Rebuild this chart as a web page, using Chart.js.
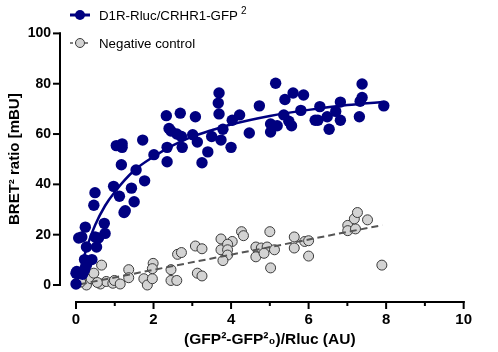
<!DOCTYPE html>
<html><head><meta charset="utf-8">
<script src="https://cdn.jsdelivr.net/npm/chart.js@4"></script>
<style>html,body{margin:0;padding:0;background:#fff}#wrap{width:498px;height:352px}</style>
</head><body><div id="wrap"><canvas id="c" width="498" height="352"></canvas></div>
<script>
// ---- data ----
const xTicks = [0, 2, 4, 6, 8, 10];
const xMinorTicks = [1, 3, 5, 7, 9];
const yTicks = [0, 20, 40, 60, 80, 100];

const seriesNames = ["D1R-Rluc/CRHR1-GFP", "Negative control"];

const blueX = [0.00,0.02,0.07,0.00,0.17,0.22,0.27,0.22,0.41,0.27,0.53,0.15,0.49,0.58,0.75,0.24,0.73,0.46,0.49,1.24,1.27,1.50,1.12,1.43,0.97,1.77,1.55,1.17,2.35,2.01,1.04,1.19,1.19,1.72,2.35,3.25,3.40,2.74,4.00,3.13,3.74,2.72,3.50,2.60,3.01,2.45,2.40,3.79,4.47,2.33,2.69,3.08,3.69,4.22,4.03,3.67,3.69,4.73,5.15,5.60,5.87,5.39,5.80,5.36,5.02,5.19,5.49,5.56,5.02,6.17,6.24,6.29,6.48,6.53,6.70,6.82,6.82,7.31,7.33,7.38,7.38,7.94];
const blueY = [0.4,5.4,18.7,4.7,4.3,6.0,7.9,10.1,10.1,15.1,15.1,19.1,19.1,18.7,20.5,23.0,24.5,31.7,36.7,28.8,29.5,33.1,35.3,38.5,39.2,41.4,45.7,47.8,49.0,51.8,55.4,56.1,54.7,57.6,54.7,48.6,52.9,54.7,54.7,56.8,57.6,59.0,59.0,60.0,59.7,61.2,62.2,61.9,60.4,67.3,68.3,66.9,68.0,67.6,65.5,72.3,76.3,71.2,80.2,76.3,75.5,73.7,69.4,67.6,64.0,63.3,65.1,63.3,60.8,65.5,65.5,70.9,66.9,61.9,69.0,72.7,65.5,66.9,73.0,74.5,79.9,71.2];

const grayX = [0.02,0.17,0.27,0.39,0.46,0.66,0.63,0.78,0.95,0.99,1.14,1.36,1.36,1.75,1.84,1.97,1.99,1.97,2.45,2.45,2.60,2.62,2.72,3.08,3.25,3.13,3.25,3.74,4.03,3.74,3.91,3.91,3.91,3.79,4.27,4.32,5.00,4.64,4.78,4.93,5.12,4.64,4.85,5.02,5.63,5.63,5.90,6.00,6.00,7.01,7.01,7.21,7.18,7.26,7.52,7.89,0.12,0.55];
const grayY = [0.7,2.9,0.0,2.5,4.7,7.9,0.4,1.4,0.7,1.8,0.4,6.1,2.9,2.5,0.0,2.5,8.6,6.5,6.1,1.8,1.8,12.2,12.9,15.5,14.4,4.7,3.6,18.3,17.3,14.0,16.2,14.0,11.9,9.7,21.2,19.6,21.2,15.1,14.7,15.1,14.0,11.2,12.6,6.8,19.1,14.7,17.3,17.6,11.5,23.7,21.6,22.3,26.3,28.8,25.9,7.9,1.2,1.0];

// fitted curves
const blueFitX = [0, 0.25, 0.5, 0.75, 1, 1.5, 2, 2.5, 3, 3.5, 4, 5, 6, 7, 7.9];
const blueFitY = [0, 13.5, 24, 31.5, 37, 45.5, 51, 55.5, 59, 61.5, 63.8, 67.2, 69.6, 71.5, 72.7];
const grayFitX = [0.1, 7.9];
const grayFitY = [0.3, 23.8];

const BLUE = '#000080';
const GRAYFILL = '#d3d3d3';
const GRAYEDGE = '#3a3a3a';
const FONT = '"Liberation Sans", Arial, Helvetica, sans-serif';

const toPts = (xs, ys) => xs.map((x, i) => ({x, y: ys[i]}));

const axesAndLegend = {
  id: 'axesAndLegend',
  afterDraw(chart) {
    const ctx = chart.ctx;
    const xs = chart.scales.x, ys = chart.scales.y;
    ctx.save();
    ctx.strokeStyle = '#000';
    ctx.lineWidth = 2;
    ctx.lineCap = 'butt';
    // y axis (offset left)
    const ax = 60;
    ctx.beginPath();
    ctx.moveTo(ax, ys.getPixelForValue(100) - 1);
    ctx.lineTo(ax, ys.getPixelForValue(0) + 1);
    ctx.stroke();
    yTicks.forEach(v => {
      const p = ys.getPixelForValue(v);
      ctx.beginPath(); ctx.moveTo(ax - 7, p); ctx.lineTo(ax + 1, p); ctx.stroke();
    });
    // x axis (offset below)
    const ay = 302;
    ctx.beginPath();
    ctx.moveTo(xs.getPixelForValue(0) - 1, ay);
    ctx.lineTo(xs.getPixelForValue(10) + 1, ay);
    ctx.stroke();
    xTicks.forEach(v => {
      const p = xs.getPixelForValue(v);
      ctx.beginPath(); ctx.moveTo(p, ay - 1); ctx.lineTo(p, ay + 7); ctx.stroke();
    });
    xMinorTicks.forEach(v => {
      const p = xs.getPixelForValue(v);
      ctx.beginPath(); ctx.moveTo(p, ay - 1); ctx.lineTo(p, ay + 4); ctx.stroke();
    });

    // legend
    ctx.strokeStyle = BLUE; ctx.lineWidth = 3;
    ctx.beginPath(); ctx.moveTo(70, 15); ctx.lineTo(90, 15); ctx.stroke();
    ctx.fillStyle = BLUE;
    ctx.beginPath(); ctx.arc(80, 15, 5, 0, Math.PI * 2); ctx.fill();
    ctx.fillStyle = '#000';
    ctx.font = '13.3px ' + FONT;
    ctx.textBaseline = 'middle';
    ctx.textAlign = 'left';
    ctx.fillText(seriesNames[0], 99, 16);
    const w = ctx.measureText(seriesNames[0]).width;
    ctx.font = '10px ' + FONT;
    ctx.fillText('2', 99 + w + 3, 11);

    ctx.strokeStyle = '#555'; ctx.lineWidth = 1.5; ctx.setLineDash([3, 2]);
    ctx.beginPath(); ctx.moveTo(70, 43); ctx.lineTo(90, 43); ctx.stroke();
    ctx.setLineDash([]);
    ctx.fillStyle = GRAYFILL; ctx.strokeStyle = GRAYEDGE; ctx.lineWidth = 1;
    ctx.beginPath(); ctx.arc(80, 43, 4.5, 0, Math.PI * 2); ctx.fill(); ctx.stroke();
    ctx.fillStyle = '#000';
    ctx.font = '13.3px ' + FONT;
    ctx.fillText(seriesNames[1], 99, 44);
    ctx.restore();
  }
};

new Chart(document.getElementById('c'), {
  type: 'scatter',
  data: {
    datasets: [
      { label: 'fit1', data: toPts(blueFitX, blueFitY), showLine: true, borderColor: BLUE, borderWidth: 2.5,
        pointRadius: 0, cubicInterpolationMode: 'monotone', order: 0, clip: false },
      { label: seriesNames[0], data: toPts(blueX, blueY), backgroundColor: BLUE, borderColor: BLUE, borderWidth: 0,
        pointRadius: 5.7, order: 1, clip: false },
      { label: 'fit2', data: toPts(grayFitX, grayFitY), showLine: true, borderColor: '#555', borderWidth: 2,
        borderDash: [7, 4], pointRadius: 0, order: 2, clip: false },
      { label: seriesNames[1], data: toPts(grayX, grayY), backgroundColor: GRAYFILL, borderColor: GRAYEDGE, borderWidth: 1,
        pointRadius: 5, order: 3, clip: false }
    ]
  },
  options: {
    responsive: false,
    animation: false,
    devicePixelRatio: 1,
    layout: { padding: { left: 0, right: 10, top: 7, bottom: 0 } },
    plugins: { legend: { display: false }, tooltip: { enabled: false } },
    scales: {
      x: {
        type: 'linear', min: 0, max: 10,
        afterBuildTicks: s => { s.ticks = xTicks.map(v => ({value: v})); },
        ticks: { color: '#000', font: { family: FONT, size: 15, weight: 'bold' }, padding: 26, maxRotation: 0 },
        grid: { display: false, drawTicks: false },
        border: { display: false },
        title: { display: true, text: '(GFP²-GFP²₀)/Rluc (AU)', color: '#000',
                 font: { family: FONT, size: 15.5, weight: 'bold' }, padding: { top: 0, bottom: 3 } },
        afterFit: s => { s.height = 67; }
      },
      y: {
        type: 'linear', min: 0, max: 100,
        afterBuildTicks: s => { s.ticks = yTicks.map(v => ({value: v})); },
        ticks: { color: '#000', font: { family: FONT, size: 14, weight: 'bold' }, padding: 25 },
        grid: { display: false, drawTicks: false },
        border: { display: false },
        title: { display: true, text: 'BRET² ratio [mBU]', color: '#000',
                 font: { family: FONT, size: 15, weight: 'bold' }, padding: { top: 6, bottom: 0 } },
        afterFit: s => { s.width = 76; }
      }
    }
  },
  plugins: [axesAndLegend]
});
</script>
</body></html>
